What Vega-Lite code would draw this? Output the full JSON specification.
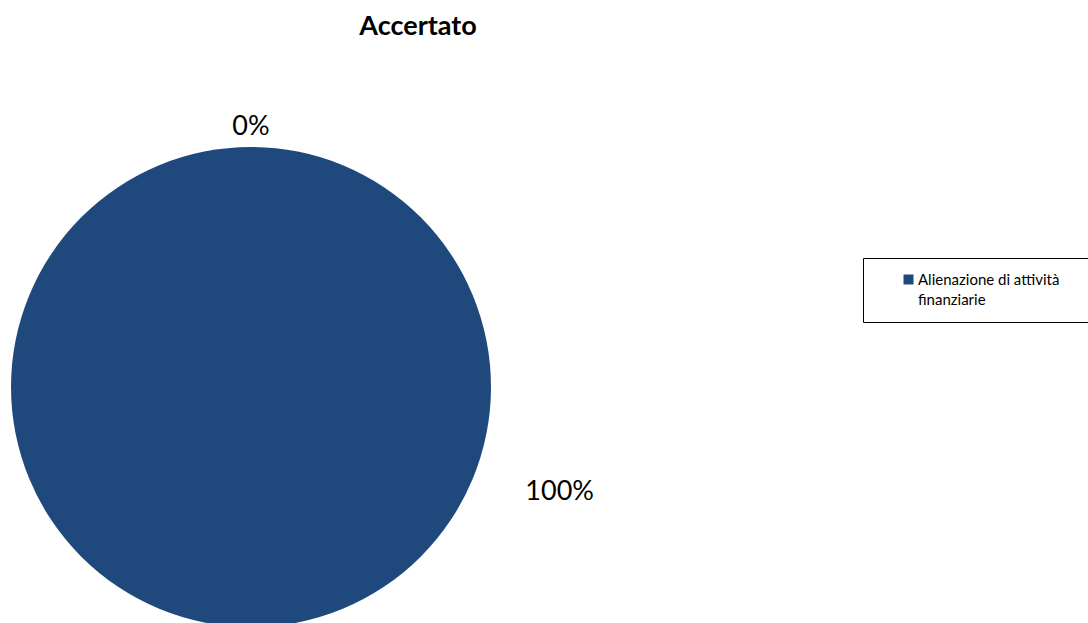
{
  "$schema": "https://vega.github.io/schema/vega-lite/v6.json",
  "width": 480,
  "height": 480,
  "autosize": {"type": "none"},
  "padding": {"left": 11, "top": 147, "right": 597, "bottom": 0},
  "background": "white",
  "config": {
    "view": {"stroke": null},
    "style": {"guide-label": {"lineHeight": 20}}
  },
  "title": {
    "text": "Accertato",
    "font": "Lato",
    "fontSize": 27,
    "fontWeight": "bold",
    "color": "#000000",
    "anchor": "middle",
    "frame": "group",
    "dx": 167,
    "offset": 51,
    "baseline": "alphabetic"
  },
  "data": {
    "values": [
      {"categoria": "Alienazione di attività finanziarie", "quota": 1},
      {"categoria": "Altro", "quota": 0}
    ]
  },
  "encoding": {
    "theta": {"field": "quota", "type": "quantitative", "stack": true},
    "order": {"field": "categoria", "sort": "ascending"}
  },
  "layer": [
    {
      "mark": {"type": "arc"},
      "encoding": {
        "color": {
          "field": "categoria",
          "type": "nominal",
          "scale": {
            "domain": ["Alienazione di attività finanziarie", "Altro"],
            "range": ["#1F497D", "#C0504D"]
          },
          "legend": {
            "values": ["Alienazione di attività finanziarie"],
            "title": "\u2003\u2003\u2003",
            "titleOrient": "right",
            "titleFontSize": 15,
            "titlePadding": 30,
            "orient": "none",
            "legendX": 852,
            "legendY": 111,
            "padding": 14,
            "strokeColor": "#000000",
            "symbolType": "square",
            "symbolSize": 100,
            "symbolOffset": 24,
            "symbolStrokeWidth": 0,
            "labelOffset": 2,
            "labelFont": "Lato",
            "labelFontSize": 15,
            "labelColor": "#000000",
            "labelLimit": 400,
            "labelExpr": "datum.label == 'Alienazione di attività finanziarie' ? ['Alienazione di attività', 'finanziarie'] : datum.label"
          }
        }
      }
    },
    {
      "transform": [{"filter": "datum.categoria == 'Altro'"}],
      "mark": {"type": "text", "radius": 260, "font": "Lato", "fontSize": 27, "baseline": "middle", "align": "center", "color": "#000000"},
      "encoding": {
        "text": {"field": "quota", "type": "quantitative", "format": ".0%"}
      }
    },
    {
      "transform": [{"filter": "datum.categoria == 'Alienazione di attività finanziarie'"}],
      "mark": {"type": "text", "radius": 326, "thetaOffset": -1.243, "font": "Lato", "fontSize": 27, "baseline": "middle", "align": "center", "color": "#000000"},
      "encoding": {
        "text": {"field": "quota", "type": "quantitative", "format": ".0%"}
      }
    }
  ]
}
